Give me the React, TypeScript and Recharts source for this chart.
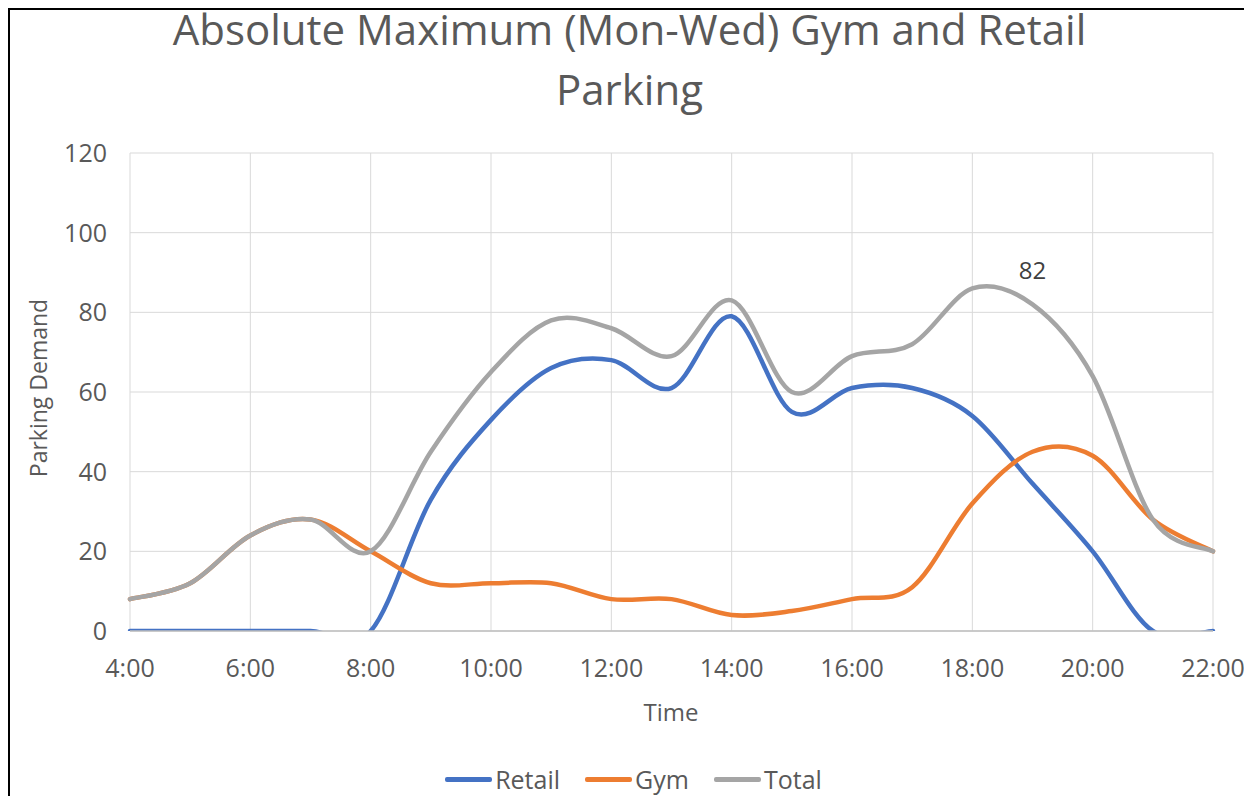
import { LineChart, Line, XAxis, YAxis, CartesianGrid } from 'recharts'

// hourly readings, 4:00 .. 22:00
const hours = [4, 5, 6, 7, 8, 9, 10, 11, 12, 13, 14, 15, 16, 17, 18, 19, 20, 21, 22]
const retail = [0, 0, 0, 0, 0, 33, 53, 66, 68, 61, 79, 55, 61, 61, 54, 37, 20, 0, 0]
const gym = [8, 12, 24, 28, 20, 12, 12, 12, 8, 8, 4, 5, 8, 11, 32, 45, 44, 28, 20]
const total = [8, 12, 24, 28, 20, 45, 65, 78, 76, 69, 83, 60, 69, 72, 86, 82, 64, 28, 20]

const xTicks = [4, 6, 8, 10, 12, 14, 16, 18, 20, 22]
const yTicks = [0, 20, 40, 60, 80, 100, 120]
const labelledHour = 19

const series = [
  { key: 'retail', name: 'Retail', color: '#4472C4' },
  { key: 'gym', name: 'Gym', color: '#ED7D31' },
  { key: 'total', name: 'Total', color: '#A5A5A5' },
]

const rows = hours.map((h, i) => ({ hour: h, retail: retail[i], gym: gym[i], total: total[i] }))

// Excel-style smoothed line (Catmull-Rom through the points)
function excelSmooth(context: any) {
  let pts: number[][] = []
  return {
    areaStart() {},
    areaEnd() {},
    lineStart() { pts = [] },
    point(x: number, y: number) { pts.push([+x, +y]) },
    lineEnd() {
      if (!pts.length) return
      context.moveTo(pts[0][0], pts[0][1])
      for (let i = 0; i < pts.length - 1; i++) {
        const p0 = pts[i - 1] || pts[i]
        const p1 = pts[i]
        const p2 = pts[i + 1]
        const p3 = pts[i + 2] || p2
        context.bezierCurveTo(
          p1[0] + (p2[0] - p0[0]) / 6, p1[1] + (p2[1] - p0[1]) / 6,
          p2[0] - (p3[0] - p1[0]) / 6, p2[1] - (p3[1] - p1[1]) / 6,
          p2[0], p2[1],
        )
      }
    },
  }
}

const grey = '#595959'
const font = '"Open Sans", sans-serif'

const peakLabel = (p: any) => {
  if (hours[p.index] !== labelledHour) return null
  return (
    <text x={p.x} y={p.y - 34} dy="0.355em" textAnchor="middle" fontSize={24} fill="#404040" fontFamily={font}>
      {p.value}
    </text>
  )
}

export default function App() {
  return (
    <>
      <style>{'html { overflow: hidden; }'}</style>
      <div
        style={{
          position: 'relative', width: 1243, height: 800, boxSizing: 'border-box',
          borderTop: '2px solid #000', borderLeft: '2px solid #000', borderRight: '2px solid #000',
          background: '#fff', fontFamily: font, color: grey,
        }}
      >
        <div style={{ position: 'absolute', left: 0, top: -11, width: 1239, textAlign: 'center', fontSize: 42, lineHeight: '60px' }}>
          Absolute Maximum (Mon-Wed) Gym and Retail<br />Parking
        </div>

        <div style={{ position: 'absolute', left: 0, top: 0 }}>
          <LineChart width={1239} height={770} data={rows} margin={{ top: 143, right: 36, bottom: 109, left: 60 }}>
            <CartesianGrid stroke="#d9d9d9" strokeWidth={1} />
            <XAxis
              dataKey="hour"
              type="number"
              domain={[4, 22]}
              ticks={xTicks}
              tickFormatter={(h) => `${h}:00`}
              height={40}
              axisLine={{ stroke: '#bfbfbf', strokeWidth: 1.5 }}
              tickLine={false}
              tickSize={0}
              tickMargin={28}
              tick={{ fontSize: 25, fill: grey, fontFamily: font }}
            />
            <YAxis
              type="number"
              domain={[0, 120]}
              ticks={yTicks}
              allowDataOverflow
              width={60}
              axisLine={false}
              tickLine={false}
              tickSize={0}
              tickMargin={23}
              tick={{ fontSize: 25, fill: grey, fontFamily: font }}
            />
            {series.map(s => (
              <Line
                key={s.key}
                dataKey={s.key}
                name={s.name}
                type={excelSmooth as any}
                stroke={s.color}
                strokeWidth={4.5}
                strokeLinecap="round"
                dot={false}
                activeDot={false}
                isAnimationActive={false}
                label={s.key === 'total' ? peakLabel : undefined}
              />
            ))}
          </LineChart>
        </div>

        <div
          style={{
            position: 'absolute', left: 28, top: 378, transform: 'translate(-50%, -50%) rotate(-90deg)',
            whiteSpace: 'nowrap', fontSize: 23,
          }}
        >
          Parking Demand
        </div>
        <div style={{ position: 'absolute', left: 661, top: 701, transform: 'translate(-50%, -50%)', fontSize: 24 }}>
          Time
        </div>

        <div
          style={{
            position: 'absolute', left: 4, top: 752, width: 1239, display: 'flex', justifyContent: 'center',
            gap: 25, fontSize: 25, lineHeight: '34px',
          }}
        >
          {series.map(s => (
            <div key={s.key} style={{ display: 'flex', alignItems: 'center' }}>
              <span style={{ display: 'inline-block', width: 47, height: 5, background: s.color, marginRight: 3, borderRadius: 2 }} />
              <span>{s.name}</span>
            </div>
          ))}
        </div>
      </div>
    </>
  )
}
